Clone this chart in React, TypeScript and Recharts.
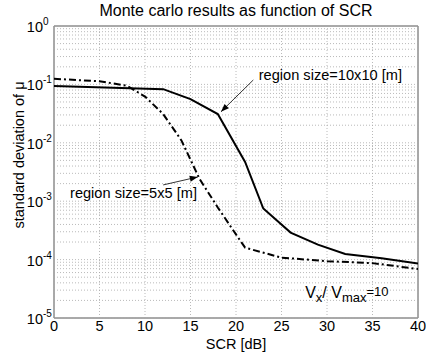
import React from 'react';
import {
  LineChart, Line, XAxis, YAxis, ReferenceLine, ReferenceDot, ReferenceArea,
} from 'recharts';

const scr10 = [0, 12, 15, 18, 21, 23, 26, 29, 32, 36, 40];
const std10 = [0.094, 0.083, 0.056, 0.031, 0.0047, 0.00075, 0.00029, 0.00018, 0.000125, 0.000105, 0.000086];

const scr5 = [0, 5, 8, 10, 12, 14, 16, 18, 20, 21, 25, 30, 35, 40];
const std5 = [0.125, 0.113, 0.095, 0.062, 0.031, 0.011, 0.0024, 0.00078, 0.00027, 0.00016, 0.000108, 0.000094, 0.000087, 0.000069];

const xTicks = [0, 5, 10, 15, 20, 25, 30, 35, 40];
const yTicks = [1e-5, 1e-4, 1e-3, 1e-2, 1e-1, 1];
const minorMult = [2, 3, 4, 5, 6, 7, 8, 9];

const title = 'Monte carlo results as function of SCR';
const xLabel = 'SCR [dB]';
const yLabel = 'standard deviation of \u03bc';
const note10 = 'region size=10x10 [m]';
const note5 = 'region size=5x5 [m]';

const data10 = scr10.map((x, i) => ({ x, y: std10[i] }));
const data5 = scr5.map((x, i) => ({ x, y: std5[i] }));

const minorY: number[] = [];
yTicks.slice(0, -1).forEach((d) => minorMult.forEach((m) => minorY.push(d * m)));

const FONT = '"Liberation Sans", Arial, Helvetica, sans-serif';
const GRID = '#a8a8a8';

const YTick = (props: any) => {
  const { y, payload } = props;
  const e = Math.round(Math.log10(payload.value));
  const bx = 43;
  return (
    <g>
      <text x={bx} y={y + 6} textAnchor="end" fontSize={14.5} fontFamily={FONT} fill="#000">10</text>
      <text x={bx} y={y - 1} textAnchor="start" fontSize={10} fontFamily={FONT} fill="#000">{e === 0 ? '0' : '-' + Math.abs(e)}</text>
    </g>
  );
};

const XTick = (props: any) => {
  const { x, payload } = props;
  return (
    <text x={x} y={331} textAnchor="middle" fontSize={14.5} fontFamily={FONT} fill="#000">
      {payload.value}
    </text>
  );
};

const Arrow = (props: any) => {
  const { x1, y1, x2, y2 } = props;
  if (x1 == null) return null;
  const ang = Math.atan2(y2 - y1, x2 - x1);
  const L = 8, W = 3;
  const bx = x2 - L * Math.cos(ang), by = y2 - L * Math.sin(ang);
  const px = -Math.sin(ang) * W, py = Math.cos(ang) * W;
  return (
    <g>
      <line x1={x1} y1={y1} x2={x2} y2={y2} stroke="#000" strokeWidth={0.8} />
      <polygon points={`${x2},${y2} ${bx + px},${by + py} ${bx - px},${by - py}`} fill="#000" />
    </g>
  );
};

const segArrow = (props: any) => {
  const { x1, y1, x2, y2 } = props;
  return <Arrow x1={x1} y1={y1} x2={x2} y2={y2} />;
};

export default function App() {
  return (
    <div style={{ width: 426, height: 354, background: '#fff' }}>
      <style>{'body{margin:0;background:#fff}'}</style>
      <LineChart width={426} height={354} margin={{ top: 26, right: 8, bottom: 0, left: 0 }}>
        <XAxis
          dataKey="x" type="number" domain={[0, 40]} ticks={xTicks} tick={<XTick />}
          axisLine={false} tickLine={false} allowDataOverflow height={36}
        />
        <YAxis
          type="number" scale="log" domain={[1e-5, 1]} ticks={yTicks} tick={<YTick />}
          axisLine={false} tickLine={false} width={54} allowDataOverflow
        />
        {minorY.map((v) => (
          <ReferenceLine key={'m' + v} y={v} stroke={GRID} strokeDasharray="1 2" strokeWidth={0.8} />
        ))}
        {yTicks.map((v) => (
          <ReferenceLine key={'M' + v} y={v} stroke={GRID} strokeDasharray="1 2" strokeWidth={0.8} />
        ))}
        {xTicks.map((v) => (
          <ReferenceLine key={'X' + v} x={v} stroke={GRID} strokeDasharray="1 2" strokeWidth={0.8} />
        ))}
        <ReferenceArea x1={0} x2={40} y1={1e-5} y2={1} fill="none" stroke="#555" strokeWidth={1} />
        <Line data={data10} dataKey="y" stroke="#000" strokeWidth={2} dot={false} isAnimationActive={false} />
        <Line data={data5} dataKey="y" stroke="#000" strokeWidth={2} strokeDasharray="7 3 2 3" dot={false} isAnimationActive={false} />
        <ReferenceLine segment={[{ x: 21.9, y: 0.119 }, { x: 18.35, y: 0.034 }]} shape={segArrow} />
        <ReferenceLine segment={[{ x: 12, y: 0.0019 }, { x: 15.8, y: 0.0026 }]} shape={segArrow} />
        <ReferenceDot x={22.5} y={0.119} r={0} shape={(p: any) => (
          <text x={p.cx} y={p.cy} fontSize={14.6} fontFamily={FONT} fill="#000">{note10}</text>
        )} />
        <ReferenceDot x={1.76} y={0.00113} r={0} shape={(p: any) => (
          <text x={p.cx} y={p.cy} fontSize={14.6} fontFamily={FONT} fill="#000">{note5}</text>
        )} />
        <ReferenceDot x={27.6} y={0.000022} r={0} shape={(p: any) => (
          <text x={p.cx} y={p.cy} fontSize={16} fontFamily={FONT} fill="#000">
            V<tspan dy={4} fontSize={13}>x</tspan><tspan dy={-4}>/ V</tspan><tspan dy={4} fontSize={13}>max</tspan><tspan dy={-6} fontSize={13}>=10</tspan>
          </text>
        )} />
        <ReferenceDot x={20} y={1} r={0} shape={(p: any) => (
          <text x={p.cx} y={16} textAnchor="middle" fontSize={16} fontFamily={FONT} fill="#000">{title}</text>
        )} />
        <ReferenceDot x={20} y={1e-5} r={0} shape={(p: any) => (
          <text x={p.cx} y={349} textAnchor="middle" fontSize={14.5} fontFamily={FONT} fill="#000">{xLabel}</text>
        )} />
        <ReferenceDot x={0} y={1e-2} r={0} shape={(p: any) => (
          <text x={0} y={0} transform={`translate(24, 155) rotate(-90)`} textAnchor="middle" fontSize={14.5} fontFamily={FONT} fill="#000">{yLabel}</text>
        )} />
      </LineChart>
    </div>
  );
}
